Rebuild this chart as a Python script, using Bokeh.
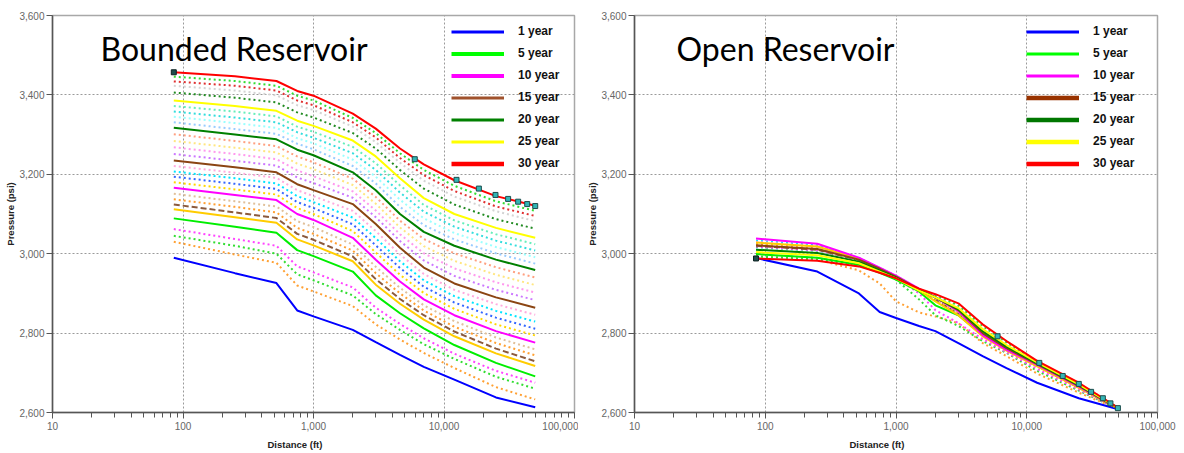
from bokeh.plotting import figure
from bokeh.layouts import row
from bokeh.models import (FixedTicker, NumeralTickFormatter, Legend, LegendItem,
                          Label, Range1d, Title)
from bokeh.embed import file_html
from bokeh.resources import INLINE

# ---------------- data : Bounded reservoir ----------------
bounded_distance_ft = [85, 250, 520, 750, 1000, 2000, 3000, 4600, 7000, 12000, 25000, 50000]

bounded_y01 = [2990, 2951, 2926, 2857, 2842, 2808, 2777, 2745, 2715, 2683, 2638, 2613]
bounded_y02 = [3030, 2998, 2977, 2920, 2905, 2868, 2822, 2784, 2750, 2712, 2664, 2633]
bounded_y03 = [3045, 3020, 3000, 2948, 2933, 2895, 2848, 2808, 2772, 2735, 2690, 2660]
bounded_y04 = [3062, 3037, 3020, 2968, 2953, 2915, 2864, 2823, 2787, 2748, 2705, 2675]
bounded_y05 = [3089, 3068, 3053, 3009, 2994, 2955, 2895, 2850, 2812, 2770, 2725, 2691]
bounded_y06 = [3112, 3092, 3078, 3036, 3021, 2981, 2922, 2874, 2834, 2792, 2749, 2717]
bounded_y07 = [3124, 3104, 3090, 3050, 3035, 2993, 2936, 2886, 2845, 2804, 2761, 2729]
bounded_y08 = [3137, 3118, 3104, 3065, 3050, 3008, 2951, 2900, 2857, 2816, 2775, 2744]
bounded_y09 = [3151, 3132, 3119, 3082, 3067, 3023, 2967, 2914, 2870, 2830, 2789, 2759]
bounded_y10 = [3166, 3148, 3135, 3100, 3085, 3040, 2985, 2930, 2885, 2845, 2805, 2776]
bounded_y11 = [3180, 3162, 3149, 3115, 3100, 3057, 3003, 2947, 2901, 2861, 2822, 2794]
bounded_y12 = [3194, 3176, 3163, 3130, 3115, 3074, 3021, 2964, 2917, 2877, 2839, 2811]
bounded_y13 = [3207, 3190, 3177, 3145, 3130, 3091, 3039, 2981, 2933, 2893, 2856, 2829]
bounded_y14 = [3221, 3204, 3191, 3160, 3145, 3108, 3057, 2998, 2949, 2909, 2873, 2846]
bounded_y15 = [3235, 3218, 3205, 3175, 3160, 3125, 3075, 3015, 2965, 2925, 2890, 2864]
bounded_y16 = [3251, 3234, 3222, 3192, 3178, 3141, 3092, 3032, 2983, 2944, 2909, 2883]
bounded_y17 = [3268, 3251, 3238, 3210, 3195, 3157, 3109, 3049, 3001, 2963, 2928, 2902]
bounded_y18 = [3284, 3267, 3255, 3227, 3213, 3173, 3126, 3066, 3019, 2982, 2947, 2921]
bounded_y19 = [3301, 3284, 3271, 3245, 3230, 3189, 3143, 3083, 3037, 3001, 2966, 2940]
bounded_y20 = [3317, 3300, 3288, 3262, 3248, 3205, 3160, 3100, 3055, 3020, 2985, 2959]
bounded_y21 = [3331, 3314, 3302, 3277, 3263, 3221, 3177, 3118, 3072, 3036, 3001, 2975]
bounded_y22 = [3345, 3329, 3317, 3291, 3278, 3237, 3194, 3136, 3089, 3052, 3017, 2991]
bounded_y23 = [3358, 3343, 3331, 3306, 3292, 3253, 3211, 3154, 3106, 3068, 3033, 3008]
bounded_y24 = [3372, 3358, 3346, 3320, 3307, 3269, 3228, 3172, 3123, 3084, 3049, 3024]
bounded_y25 = [3386, 3372, 3360, 3335, 3322, 3285, 3245, 3190, 3140, 3100, 3065, 3040]
bounded_y26 = [3406, 3393, 3381, 3356, 3343, 3304, 3265, 3211, 3164, 3124, 3087, 3063]
bounded_y27 = [3423, 3411, 3399, 3374, 3362, 3320, 3281, 3229, 3184, 3144, 3107, 3082]
bounded_y28 = [3434, 3423, 3411, 3386, 3374, 3331, 3293, 3241, 3198, 3158, 3119, 3095]
bounded_y29 = [3446, 3435, 3423, 3398, 3386, 3342, 3304, 3253, 3211, 3171, 3132, 3108]
bounded_y30 = [3457, 3447, 3435, 3410, 3398, 3353, 3315, 3265, 3225, 3185, 3145, 3121]

bounded_marker_ft = [5970, 12470, 18500, 24800, 31000, 37000, 43400, 50000]
bounded_marker_psi = [3238, 3186, 3164, 3148, 3138, 3131, 3125, 3120]
bounded_start_ft = [85]
bounded_start_psi = [3457]

# ---------------- data : Open reservoir ----------------
open_distance_ft = [85, 250, 520, 750, 1000, 1500, 2000, 3000, 4600, 7000, 12000, 25000, 50000]

open_y01 = [2989, 2955, 2900, 2853, 2838, 2818, 2805, 2775, 2742, 2712, 2675, 2636, 2608]
open_y02 = [2995, 2985, 2958, 2925, 2880, 2852, 2842, 2825, 2775, 2742, 2698, 2650, 2609]
open_y03 = [3015, 3005, 2982, 2960, 2935, 2885, 2845, 2818, 2780, 2750, 2705, 2655, 2609]
open_y04 = [3018, 3008, 2985, 2962, 2940, 2900, 2858, 2825, 2785, 2752, 2710, 2658, 2609]
open_y05 = [2999, 2990, 2972, 2952, 2935, 2905, 2870, 2845, 2795, 2760, 2718, 2663, 2610]
open_y06 = [3028, 3018, 2988, 2963, 2942, 2908, 2880, 2845, 2792, 2756, 2716, 2662, 2610]
open_y07 = [3020, 3010, 2984, 2960, 2940, 2908, 2884, 2848, 2794, 2757, 2717, 2663, 2610]
open_y08 = [3025, 3014, 2986, 2962, 2941, 2909, 2886, 2850, 2796, 2758, 2718, 2664, 2610]
open_y09 = [3032, 3020, 2988, 2963, 2943, 2910, 2888, 2852, 2797, 2759, 2719, 2664, 2610]
open_y10 = [3038, 3025, 2990, 2965, 2945, 2912, 2890, 2855, 2795, 2758, 2720, 2665, 2610]
open_y12 = [3030, 3019, 2988, 2963, 2943, 2911, 2890, 2857, 2798, 2760, 2721, 2666, 2610]
open_y13 = [3033, 3021, 2989, 2964, 2944, 2911, 2890, 2858, 2800, 2762, 2722, 2667, 2610]
open_y15 = [3021, 3012, 2985, 2962, 2942, 2910, 2890, 2858, 2800, 2762, 2722, 2667, 2610]
open_y17 = [3030, 3018, 2986, 2962, 2942, 2910, 2890, 2860, 2803, 2764, 2723, 2668, 2611]
open_y20 = [3010, 3002, 2980, 2958, 2940, 2908, 2890, 2860, 2805, 2766, 2724, 2669, 2611]
open_y22 = [3012, 3003, 2980, 2957, 2939, 2908, 2890, 2862, 2808, 2768, 2725, 2670, 2611]
open_y25 = [3004, 2996, 2976, 2955, 2938, 2907, 2890, 2863, 2810, 2770, 2726, 2671, 2611]
open_y27 = [2998, 2990, 2973, 2954, 2938, 2908, 2892, 2866, 2814, 2774, 2727, 2672, 2611]
open_y29 = [2993, 2986, 2970, 2953, 2938, 2910, 2895, 2870, 2818, 2777, 2728, 2673, 2612]
open_y30 = [2988, 2982, 2968, 2952, 2938, 2912, 2898, 2875, 2822, 2780, 2730, 2675, 2612]

open_marker_ft = [5980, 12470, 18840, 25000, 31050, 38200, 43650, 49800]
open_marker_psi = [2792, 2725, 2692, 2672, 2652, 2636, 2623, 2611]
open_start_ft = [85]
open_start_psi = [2988]

legend_labels = ["1 year", "5 year", "10 year", "15 year", "20 year", "25 year", "30 year"]
x_ticks = [10, 100, 1000, 10000, 100000]
y_ticks = [2600, 2800, 3000, 3200, 3400, 3600]

bounded_series = {1: bounded_y01, 2: bounded_y02, 3: bounded_y03, 4: bounded_y04, 5: bounded_y05,
                  6: bounded_y06, 7: bounded_y07, 8: bounded_y08, 9: bounded_y09, 10: bounded_y10,
                  11: bounded_y11, 12: bounded_y12, 13: bounded_y13, 14: bounded_y14, 15: bounded_y15,
                  16: bounded_y16, 17: bounded_y17, 18: bounded_y18, 19: bounded_y19, 20: bounded_y20,
                  21: bounded_y21, 22: bounded_y22, 23: bounded_y23, 24: bounded_y24, 25: bounded_y25,
                  26: bounded_y26, 27: bounded_y27, 28: bounded_y28, 29: bounded_y29, 30: bounded_y30}
open_series = {1: open_y01, 2: open_y02, 3: open_y03, 4: open_y04, 5: open_y05, 6: open_y06,
               7: open_y07, 8: open_y08, 9: open_y09, 10: open_y10, 12: open_y12, 13: open_y13,
               15: open_y15, 17: open_y17, 20: open_y20, 22: open_y22, 25: open_y25, 27: open_y27,
               29: open_y29, 30: open_y30}

# ---------------- styles ----------------
DOT = "2 3"
STYLE = {1: ("#0000ff", "solid"), 2: ("#ffa033", DOT), 3: ("#33dd33", DOT), 4: ("#ff44ff", DOT),
         5: ("#00ee00", "solid"), 6: ("#ffcc00", "solid"), 7: ("#8b5a3c", "6 3"), 8: ("#ffa033", DOT),
         9: ("#e0c09a", DOT), 10: ("#ff00ff", "solid"), 11: ("#ffd700", DOT), 12: ("#3366ff", DOT),
         13: ("#00e5ff", DOT), 14: ("#ffaadd", DOT), 15: ("#8b4513", "solid"), 16: ("#cc77ff", DOT),
         17: ("#ff99ee", DOT), 18: ("#ffe680", DOT), 19: ("#ffa080", DOT), 20: ("#008000", "solid"),
         21: ("#99ccff", DOT), 22: ("#99ffff", DOT), 23: ("#33dddd", DOT), 24: ("#66eebb", DOT),
         25: ("#ffff00", "solid"), 26: ("#228b22", DOT), 27: ("#d3d3d3", DOT), 28: ("#e03030", DOT),
         29: ("#33dd33", DOT), 30: ("#ff0000", "solid")}

LEFT_LEG = [("#0000ff", 3), ("#00ff00", 4), ("#ff00ff", 4), ("#a0522d", 3),
            ("#008000", 3), ("#ffff00", 3), ("#ff0000", 4.5)]
RIGHT_LEG = [("#0000ff", 3), ("#00ff00", 3), ("#ff00ff", 3), ("#993300", 4.5),
             ("#007700", 4.5), ("#ffff00", 4.5), ("#ff0000", 4.5)]

FONT = "Liberation Sans"
NAN = float("nan")


def make_plot(width, border_left, border_right, xs, series, title, title_x,
              leg_styles, leg_loc, mk_x, mk_y, st_x, st_y):
    p = figure(width=width, height=453, x_axis_type="log",
               x_range=Range1d(10, 100000), y_range=Range1d(2600, 3600),
               output_backend="svg", toolbar_location=None,
               min_border_left=border_left, min_border_right=border_right,
               min_border_top=15, min_border_bottom=40)
    p.background_fill_color = "white"
    p.outline_line_color = "#a8a8a8"
    p.outline_line_width = 1.5

    # axes
    p.xaxis.ticker = FixedTicker(ticks=x_ticks,
                                 minor_ticks=[m * d for d in [10, 100, 1000, 10000] for m in range(2, 10)])
    p.xaxis.formatter = NumeralTickFormatter(format="0,0")
    p.yaxis.ticker = FixedTicker(ticks=y_ticks)
    p.yaxis.formatter = NumeralTickFormatter(format="0,0")
    for ax in (p.xaxis[0], p.yaxis[0]):
        ax.axis_line_color = "#555555"
        ax.axis_line_width = 1.5
        ax.major_tick_line_color = "#555555"
        ax.major_tick_out = 6
        ax.major_tick_in = 0
        ax.minor_tick_line_color = "#555555"
        ax.minor_tick_out = 5
        ax.minor_tick_in = 0
        ax.major_label_text_font = FONT
        ax.major_label_text_font_size = "10px"
        ax.major_label_text_color = "#666666"
        ax.axis_label_text_font = FONT
        ax.axis_label_text_font_size = "9.5px"
        ax.axis_label_text_font_style = "bold"
        ax.axis_label_text_color = "#222222"
    p.yaxis.minor_tick_line_color = None
    p.xaxis.major_label_standoff = 3
    p.yaxis.major_label_standoff = 2
    p.yaxis.axis_label_standoff = 0
    p.yaxis.axis_label = "Pressure (psi)"

    # x-axis title, slightly left of centre as in the original
    p.add_layout(Title(text="Distance (ft)", align="left", offset=215, standoff=8,
                       text_font=FONT, text_font_size="9.5px", text_font_style="bold",
                       text_color="#222222"), "below")

    # grid
    p.xgrid.ticker = FixedTicker(ticks=[100, 1000, 10000])
    p.ygrid.ticker = FixedTicker(ticks=[2800, 3000, 3200, 3400])
    for g in (p.xgrid[0], p.ygrid[0]):
        g.grid_line_color = "#9a9a9a"
        g.grid_line_dash = "2 2"
        g.grid_line_width = 1

    # dotted / dashed series first, solid ones on top
    order = sorted(series.keys(), key=lambda k: (STYLE[k][1] == "solid", k))
    for yr in order:
        color, dash = STYLE[yr]
        p.line(xs, series[yr], line_color=color, line_dash=dash, line_width=2)

    p.scatter(mk_x, mk_y, marker="square", size=5, fill_color="#33b5b5",
              line_color="#1d4d4d", line_width=1)
    p.scatter(st_x, st_y, marker="square", size=5, fill_color="#1d4d4d",
              line_color="#0d2020", line_width=1)

    # legend (sample lines only, no visible data)
    items = []
    for lab, (c, w) in zip(legend_labels, leg_styles):
        r = p.line([NAN], [NAN], line_color=c, line_width=w)
        items.append(LegendItem(label=lab, renderers=[r]))
    leg = Legend(items=items, location=leg_loc, orientation="vertical",
                 glyph_width=53, glyph_height=15, label_height=15, spacing=7,
                 padding=0, margin=0, label_standoff=14,
                 border_line_color=None, background_fill_alpha=0,
                 label_text_font=FONT, label_text_font_size="12px",
                 label_text_font_style="bold", label_text_color="#111111")
    p.add_layout(leg)

    p.add_layout(Label(x=title_x, y=364, x_units="screen", y_units="screen",
                       text=title, text_font="Lato", text_font_size="32px",
                       text_color="#000000", text_baseline="middle"))
    return p


left = make_plot(578, 52, 4, bounded_distance_ft, bounded_series, "Bounded Reservoir", 48,
                 LEFT_LEG, (399, 241.5), bounded_marker_ft, bounded_marker_psi,
                 bounded_start_ft, bounded_start_psi)
right = make_plot(606, 56, 27, open_distance_ft, open_series, "Open Reservoir", 42,
                  RIGHT_LEG, (392, 241.5), open_marker_ft, open_marker_psi,
                  open_start_ft, open_start_psi)

layout = row(left, right)
open("out.html", "w").write(file_html(layout, INLINE))
